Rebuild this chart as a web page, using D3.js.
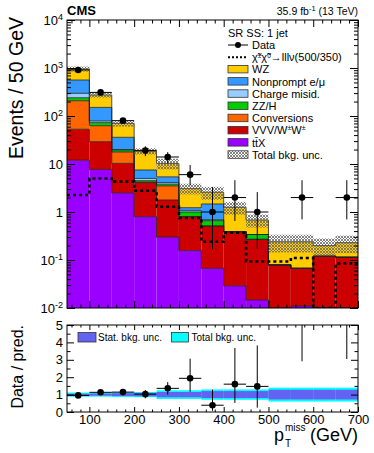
<!DOCTYPE html>
<html>
<head>
<meta charset="utf-8">
<script src="https://cdn.jsdelivr.net/npm/d3@7/dist/d3.min.js"></script>
<style>
    body { margin: 0; background: #fff; }
    svg { display: block; font-family: "Liberation Sans", Arial, Helvetica, sans-serif; }
</style>
</head>
<body>
<svg id="chart" width="374" height="453"></svg>
<script>
// bin lower edges, GeV (each bin is 50 GeV wide)
var binLow = [50, 100, 150, 200, 250, 300, 350, 400, 450, 500, 550, 600, 650];
var binWidth = 50;

// background yields per bin
var ttX = [12, 7.7, 2.5, 0.8, 0.30, 0.157, 0.067, 0.029, 0.0147, 0, 0.011, 0, 0];
var vvv = [41, 21.5, 7.8, 3.3, 1.48, 0.643, 0.443, 0.361, 0.255, 0.079, 0.056, 0.12, 0.114];
var conversions = [155, 33.6, 7.5, 0.1, 1.72, 0, 0, 0, 0, 0, 0, 0, 0];
var zzh = [32, 10, 1.7, 0.3, 0.3, 0.2, 0.15, 0, 0.07, 0, 0, 0, 0];
var chargeMisid = [57, 6, 0.5, 0.5, 0.3, 0.08, 0.03, 0, 0, 0, 0, 0, 0];
var nonprompt = [265, 72.3, 16, 2.5, 1.3, 0.15, 0.78, 0, 0, 0, 0, 0, 0];
var wz = [393, 123, 34, 11, 4.9, 1.87, 1.1, 0.86, 0.34, 0.161, 0.173, 0.08, 0.116];

// relative background uncertainties
var totalUnc = [0.12, 0.12, 0.14, 0.15, 0.25, 0.25, 0.3, 0.3, 0.3, 0.4, 0.4, 0.4, 0.4];
var statUnc = [0.05, 0.06, 0.08, 0.1, 0.15, 0.15, 0.2, 0.2, 0.2, 0.28, 0.28, 0.28, 0.28];

// signal chi+- chi0 -> lllv (500/350)
var signal = [2.26, 5.0, 4.3, 2.78, 1.29, 0.75, 0.24, 0.37, 0.093, 0.093, 0.11, 0, 0.085];

// observed data
var dataObs = [910, 310, 80, 19, 14, 6, 1, 2, 1, 0, 2, 0, 2];
var dataErrDown = [30, 17.6, 8.9, 4.4, 3.7, 2.4, 0.83, 1.35, 0.83, 0, 1.3, 0, 1.3];
var dataErrUp = [30, 17.6, 8.9, 4.4, 3.7, 3.5, 2.3, 2.6, 1.6, 0, 2.6, 0, 2.6];

// axis ticks
var yTicksMain = [1e-2, 1e-1, 1, 10, 1e2, 1e3, 1e4];
var xTicks = [100, 200, 300, 400, 500, 600, 700];
var ratioTicks = [0, 1, 2, 3, 4, 5];

var keys = ["ttX", "vvv", "conversions", "zzh", "chargeMisid", "nonprompt", "wz"];
var colors = {
    ttX: "#9900ff",
    vvv: "#cc0000",
    conversions: "#ff6600",
    zzh: "#00cc00",
    chargeMisid: "#99ccff",
    nonprompt: "#3399ff",
    wz: "#ffcc00"
};

var svg = d3.select("#chart");
var left = 67, right = 358;
var topY = 20, topB = 308;
var ratT = 325, ratB = 412;

var x = d3.scaleLinear().domain([50, 700]).range([left, right]);
var y = d3.scaleLog().domain([1e-2, 1e4]).range([topB, topY]);
var yr = d3.scaleLinear().domain([0, 5]).range([ratB, ratT]);

function yv(v) {
    return y(Math.max(v, 1e-2));
}

// table for the stack
var rows = binLow.map(function (lo, i) {
    return {
        lo: lo, ttX: ttX[i], vvv: vvv[i], conversions: conversions[i], zzh: zzh[i],
        chargeMisid: chargeMisid[i], nonprompt: nonprompt[i], wz: wz[i]
    };
});
var stacked = d3.stack().keys(keys)(rows);
var totals = rows.map(function (r) {
    return d3.sum(keys, function (k) { return r[k]; });
});

// hatch pattern for total bkg. unc.
var defs = svg.append("defs");
var pat = defs.append("pattern")
    .attr("id", "hatch")
    .attr("patternUnits", "userSpaceOnUse")
    .attr("width", 3)
    .attr("height", 3);
pat.append("path")
    .attr("d", "M0,3 L3,0 M0,0 L3,3")
    .attr("stroke", "#666")
    .attr("stroke-width", 0.8);
defs.append("clipPath").attr("id", "clipTop")
    .append("rect").attr("x", left).attr("y", topY).attr("width", right - left).attr("height", topB - topY);
defs.append("clipPath").attr("id", "clipRat")
    .append("rect").attr("x", left).attr("y", ratT).attr("width", right - left).attr("height", ratB - ratT);

var plot = svg.append("g").attr("clip-path", "url(#clipTop)");

//stacked fills
stacked.forEach(function (layer) {
    plot.append("g")
        .selectAll("rect")
        .data(layer)
        .enter()
        .append("rect")
        .attr("x", function (d) { return x(d.data.lo); })
        .attr("width", function (d) { return x(d.data.lo + binWidth) - x(d.data.lo); })
        .attr("y", function (d) { return yv(d[1]); })
        .attr("height", function (d) { return yv(d[0]) - yv(d[1]); })
        .attr("fill", colors[layer.key]);
});

//outlines of each layer as steps
function stepPoints(vals) {
    var pts = [];
    vals.forEach(function (v, i) {
        pts.push([x(binLow[i]), yv(v)]);
        pts.push([x(binLow[i] + binWidth), yv(v)]);
    });
    return pts;
}
stacked.forEach(function (layer) {
    plot.append("path")
        .attr("d", d3.line()(stepPoints(layer.map(function (d) { return d[1]; }))))
        .attr("fill", "none")
        .attr("stroke", "#222")
        .attr("stroke-width", 0.8);
});

//uncertainty band
plot.append("g")
    .selectAll("rect")
    .data(rows)
    .enter()
    .append("rect")
    .attr("x", function (d) { return x(d.lo); })
    .attr("width", function (d) { return x(d.lo + binWidth) - x(d.lo); })
    .attr("y", function (d, i) { return yv(totals[i] * (1 + totalUnc[i])); })
    .attr("height", function (d, i) { return yv(totals[i] * (1 - totalUnc[i])) - yv(totals[i] * (1 + totalUnc[i])); })
    .attr("fill", "url(#hatch)");

//signal
plot.append("path")
    .attr("d", d3.line()(stepPoints(signal)))
    .attr("fill", "none")
    .attr("stroke", "#000")
    .attr("stroke-width", 2.6)
    .attr("stroke-dasharray", "3,3");

//data points
var dataRows = binLow.map(function (lo, i) {
    return { c: lo + binWidth / 2, v: dataObs[i], dn: dataErrDown[i], up: dataErrUp[i], pred: totals[i] };
}).filter(function (d) { return d.v > 0; });

var dataG = svg.append("g").attr("clip-path", "url(#clipTop)");
dataG.selectAll("line.ex")
    .data(dataRows).enter().append("line")
    .attr("x1", function (d) { return x(d.c - binWidth / 2); })
    .attr("x2", function (d) { return x(d.c + binWidth / 2); })
    .attr("y1", function (d) { return y(d.v); })
    .attr("y2", function (d) { return y(d.v); })
    .attr("stroke", "#000").attr("stroke-width", 1);
dataG.selectAll("line.ey")
    .data(dataRows).enter().append("line")
    .attr("x1", function (d) { return x(d.c); })
    .attr("x2", function (d) { return x(d.c); })
    .attr("y1", function (d) { return yv(d.v - d.dn); })
    .attr("y2", function (d) { return y(d.v + d.up); })
    .attr("stroke", "#000").attr("stroke-width", 1);
dataG.selectAll("circle")
    .data(dataRows).enter().append("circle")
    .attr("cx", function (d) { return x(d.c); })
    .attr("cy", function (d) { return y(d.v); })
    .attr("r", 3.3)
    .attr("fill", "#000");

//axes, ticks inside
function minorLog() {
    var t = [];
    for (var e = -2; e < 4; e++) {
        for (var m = 2; m <= 9; m++) t.push(m * Math.pow(10, e));
    }
    return t;
}
var xMinor = d3.range(60, 700, 20).filter(function (v) { return v % 100 != 0; });

function tickAxis(axis, tx, ty) {
    var g = svg.append("g").attr("transform", "translate(" + tx + "," + ty + ")").call(axis);
    g.select(".domain").remove();
    g.selectAll("line").attr("stroke", "#000");
    return g;
}

tickAxis(d3.axisLeft(y).tickValues(yTicksMain).tickSize(-8).tickFormat(""), left, 0);
tickAxis(d3.axisLeft(y).tickValues(minorLog()).tickSize(-4).tickFormat(""), left, 0);
tickAxis(d3.axisRight(y).tickValues(yTicksMain).tickSize(-8).tickFormat(""), right, 0);
tickAxis(d3.axisRight(y).tickValues(minorLog()).tickSize(-4).tickFormat(""), right, 0);
tickAxis(d3.axisBottom(x).tickValues(xTicks).tickSize(-7).tickFormat(""), 0, topB);
tickAxis(d3.axisBottom(x).tickValues(xMinor).tickSize(-3.5).tickFormat(""), 0, topB);
tickAxis(d3.axisTop(x).tickValues(xTicks).tickSize(-7).tickFormat(""), 0, topY);
tickAxis(d3.axisTop(x).tickValues(xMinor).tickSize(-3.5).tickFormat(""), 0, topY);

//log labels 10^n
var yLab = svg.append("g").attr("transform", "translate(" + left + ",0)")
    .call(d3.axisLeft(y).tickValues(yTicksMain).tickSize(0).tickPadding(4));
yLab.select(".domain").remove();
yLab.selectAll("text")
    .attr("font-size", 13)
    .attr("font-family", "Liberation Sans, Arial, sans-serif")
    .attr("fill", "#000")
    .each(function (d) {
        var e = Math.round(Math.log10(d));
        var t = d3.select(this).text(null);
        if (e == 0) {
            t.text("1");
        } else if (e == 1) {
            t.text("10");
        } else {
            t.append("tspan").text("10");
            t.append("tspan").attr("dy", "-0.5em").attr("font-size", 9).text(e);
        }
    });

svg.append("rect")
    .attr("x", left).attr("y", topY)
    .attr("width", right - left).attr("height", topB - topY)
    .attr("fill", "none").attr("stroke", "#000").attr("stroke-width", 1);

//titles
svg.append("text").attr("x", left).attr("y", 14.5)
    .attr("font-size", 13).attr("font-weight", "bold").text("CMS");
var lumi = svg.append("text").attr("x", right).attr("y", 14.5)
    .attr("text-anchor", "end").attr("font-size", 10.5);
lumi.append("tspan").text("35.9 fb");
lumi.append("tspan").attr("dy", -4).attr("font-size", 7.5).text("-1");
lumi.append("tspan").attr("dy", 4).text(" (13 TeV)");

svg.append("text")
    .attr("transform", "translate(23,17) rotate(-90)")
    .attr("text-anchor", "end")
    .attr("font-size", 19.5)
    .text("Events / 50 GeV");

//legend
var lg = svg.append("g").attr("font-size", 11);
var lx = 228, lRow = 12.2, lTop = 49;
lg.append("text").attr("x", lx).attr("y", 37).text("SR SS: 1 jet");

var legendItems = [
    { type: "data", label: "Data" },
    { type: "signal" },
    { type: "box", key: "wz", label: "WZ" },
    { type: "box", key: "nonprompt", label: "Nonprompt e/\u03bc" },
    { type: "box", key: "chargeMisid", label: "Charge misid." },
    { type: "box", key: "zzh", label: "ZZ/H" },
    { type: "box", key: "conversions", label: "Conversions" },
    { type: "box", key: "vvv", label: "VVV/W\u00b1W\u00b1" },
    { type: "box", key: "ttX", label: "tt\u0304X" },
    { type: "unc", label: "Total bkg. unc." }
];
legendItems.forEach(function (it, i) {
    var by = lTop + i * lRow;
    if (it.type == "data") {
        lg.append("line").attr("x1", lx).attr("x2", lx + 20).attr("y1", by - 4).attr("y2", by - 4)
            .attr("stroke", "#000");
        lg.append("circle").attr("cx", lx + 10).attr("cy", by - 4).attr("r", 3).attr("fill", "#000");
    } else if (it.type == "signal") {
        lg.append("line").attr("x1", lx).attr("x2", lx + 20).attr("y1", by - 4).attr("y2", by - 4)
            .attr("stroke", "#000").attr("stroke-width", 2).attr("stroke-dasharray", "2,2");
    } else {
        lg.append("rect").attr("x", lx).attr("y", by - 8).attr("width", 20).attr("height", 7.5)
            .attr("fill", it.type == "unc" ? "url(#hatch)" : colors[it.key])
            .attr("stroke", "#333").attr("stroke-width", 0.8);
    }
    var t = lg.append("text").attr("x", lx + 24).attr("y", by);
    if (it.type == "signal") {
        // chi with tilde, charge as superscript
        t.append("tspan").text("\u03c7\u0303");
        t.append("tspan").attr("dy", -3.5).attr("font-size", 6.5).text("\u00b1");
        t.append("tspan").attr("dy", 3.5).text("\u03c7\u0303");
        t.append("tspan").attr("dy", -3.5).attr("font-size", 6.5).text("0");
        t.append("tspan").attr("dy", 3.5).text("\u2192lll\u03bd(500/350)");
    } else if (it.key == "vvv") {
        t.append("tspan").text("VVV/W");
        t.append("tspan").attr("dy", -4).attr("font-size", 7).text("\u00b1");
        t.append("tspan").attr("dy", 4).text("W");
        t.append("tspan").attr("dy", -4).attr("font-size", 7).text("\u00b1");
    } else {
        t.text(it.label);
    }
});

// ratio panel
var rat = svg.append("g").attr("clip-path", "url(#clipRat)");
rat.append("g").selectAll("rect")
    .data(binLow).enter().append("rect")
    .attr("x", function (d) { return x(d); })
    .attr("width", function (d) { return x(d + binWidth) - x(d); })
    .attr("y", function (d, i) { return yr(1 + totalUnc[i]); })
    .attr("height", function (d, i) { return yr(1 - totalUnc[i]) - yr(1 + totalUnc[i]); })
    .attr("fill", "#00ffff");
rat.append("g").selectAll("rect")
    .data(binLow).enter().append("rect")
    .attr("x", function (d) { return x(d); })
    .attr("width", function (d) { return x(d + binWidth) - x(d); })
    .attr("y", function (d, i) { return yr(1 + statUnc[i]); })
    .attr("height", function (d, i) { return yr(1 - statUnc[i]) - yr(1 + statUnc[i]); })
    .attr("fill", "#6363f2");

rat.selectAll("line.ex")
    .data(dataRows).enter().append("line")
    .attr("x1", function (d) { return x(d.c - binWidth / 2); })
    .attr("x2", function (d) { return x(d.c + binWidth / 2); })
    .attr("y1", function (d) { return yr(d.v / d.pred); })
    .attr("y2", function (d) { return yr(d.v / d.pred); })
    .attr("stroke", "#000").attr("stroke-width", 1);
rat.selectAll("line.ey")
    .data(dataRows).enter().append("line")
    .attr("x1", function (d) { return x(d.c); })
    .attr("x2", function (d) { return x(d.c); })
    .attr("y1", function (d) { return yr((d.v - d.dn) / d.pred); })
    .attr("y2", function (d) { return yr((d.v + d.up) / d.pred); })
    .attr("stroke", "#000").attr("stroke-width", 1);
rat.selectAll("circle")
    .data(dataRows).enter().append("circle")
    .attr("cx", function (d) { return x(d.c); })
    .attr("cy", function (d) { return yr(d.v / d.pred); })
    .attr("r", 3.3)
    .attr("fill", "#000");

var rMinor = d3.range(0.5, 5, 0.5).filter(function (v) { return v % 1 != 0; });
tickAxis(d3.axisLeft(yr).tickValues(ratioTicks).tickSize(-7).tickFormat(""), left, 0);
tickAxis(d3.axisLeft(yr).tickValues(rMinor).tickSize(-3.5).tickFormat(""), left, 0);
tickAxis(d3.axisRight(yr).tickValues(ratioTicks).tickSize(-7).tickFormat(""), right, 0);
tickAxis(d3.axisRight(yr).tickValues(rMinor).tickSize(-3.5).tickFormat(""), right, 0);
tickAxis(d3.axisBottom(x).tickValues(xTicks).tickSize(-5).tickFormat(""), 0, ratB);
tickAxis(d3.axisBottom(x).tickValues(xMinor).tickSize(-2.5).tickFormat(""), 0, ratB);
tickAxis(d3.axisTop(x).tickValues(xTicks).tickSize(-5).tickFormat(""), 0, ratT);
tickAxis(d3.axisTop(x).tickValues(xMinor).tickSize(-2.5).tickFormat(""), 0, ratT);

var rLab = svg.append("g").attr("transform", "translate(" + left + ",0)")
    .call(d3.axisLeft(yr).tickValues(ratioTicks).tickSize(0).tickPadding(4).tickFormat(d3.format("d")));
rLab.select(".domain").remove();
rLab.selectAll("text").attr("font-size", 13).attr("font-family", "Liberation Sans, Arial, sans-serif");

var xLab = svg.append("g").attr("transform", "translate(0," + ratB + ")")
    .call(d3.axisBottom(x).tickValues(xTicks).tickSize(0).tickPadding(3).tickFormat(d3.format("d")));
xLab.select(".domain").remove();
xLab.selectAll("text").attr("font-size", 13).attr("font-family", "Liberation Sans, Arial, sans-serif");

svg.append("rect")
    .attr("x", left).attr("y", ratT)
    .attr("width", right - left).attr("height", ratB - ratT)
    .attr("fill", "none").attr("stroke", "#000").attr("stroke-width", 1);

//ratio legend
var rl = svg.append("g").attr("font-size", 10);
rl.append("rect").attr("x", 78).attr("y", 332.5).attr("width", 18).attr("height", 9.5)
    .attr("fill", "#6363f2").attr("stroke", "#333").attr("stroke-width", 0.8);
rl.append("text").attr("x", 98).attr("y", 340.5).text("Stat. bkg. unc.");
rl.append("rect").attr("x", 171.5).attr("y", 332.5).attr("width", 17).attr("height", 9.5)
    .attr("fill", "#00ffff").attr("stroke", "#333").attr("stroke-width", 0.8);
rl.append("text").attr("x", 191.5).attr("y", 340.5).text("Total bkg. unc.");

svg.append("text")
    .attr("transform", "translate(23," + ratT + ") rotate(-90)")
    .attr("text-anchor", "end")
    .attr("font-size", 16)
    .text("Data / pred.");

//x title
svg.append("text").attr("x", 274).attr("y", 441).attr("font-size", 18).text("p");
svg.append("text").attr("x", 285).attr("y", 431).attr("font-size", 10).text("miss");
svg.append("text").attr("x", 285).attr("y", 447).attr("font-size", 10).text("T");
svg.append("text").attr("x", right).attr("y", 441).attr("text-anchor", "end").attr("font-size", 18).text("(GeV)");
</script>
</body>
</html>
